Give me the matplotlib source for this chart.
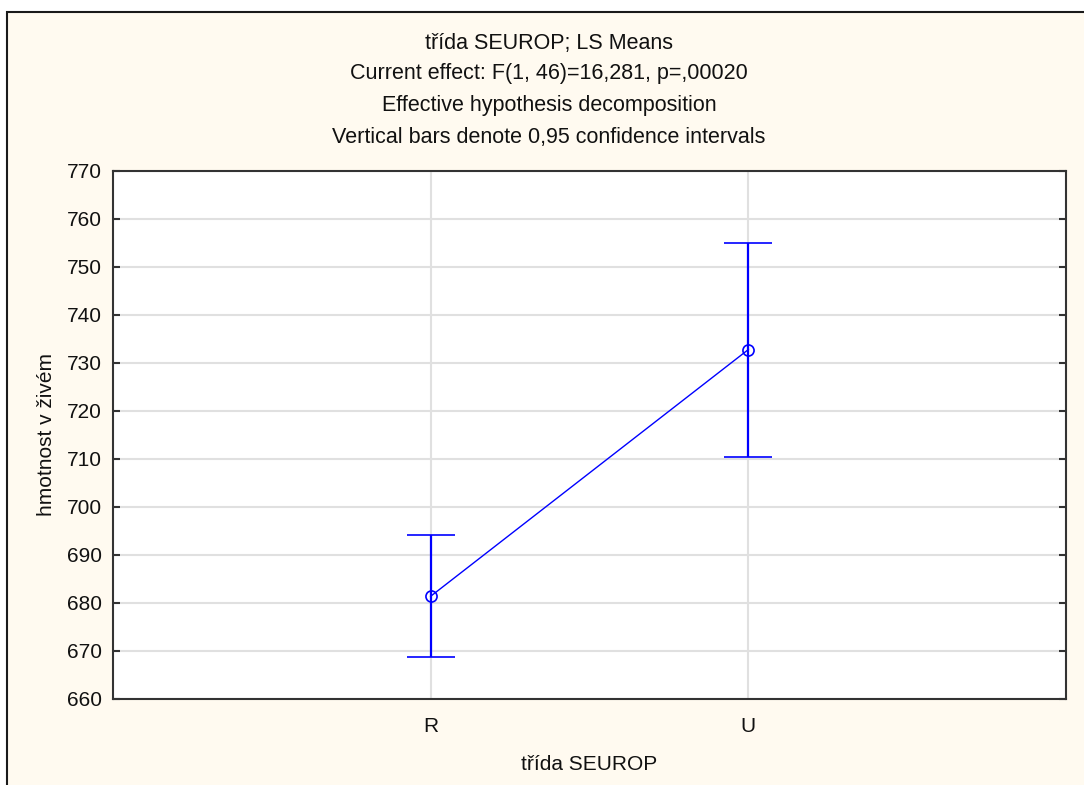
import matplotlib.pyplot as plt
from matplotlib.patches import Rectangle

# LS means of live weight per SEUROP class with 0.95 confidence limits
classes = ['R', 'U']
means = [681.4, 732.8]
ci_low = [668.8, 710.5]
ci_high = [694.2, 755.1]

title_lines = ['třída SEUROP; LS Means',
               'Current effect: F(1, 46)=16,281, p=,00020',
               'Effective hypothesis decomposition',
               'Vertical bars denote 0,95 confidence intervals']
y_ticks = list(range(660, 771, 10))

W, H = 1084, 785
FS = 15
plt.rcParams['font.family'] = ['Liberation Sans', 'DejaVu Sans']

fig = plt.figure(figsize=(W / 100, H / 100), dpi=100, facecolor='white')

# cream panel with dark frame
fig.patches.append(Rectangle((7 / W, -0.1), 1.2, 1 - 12 / H + 0.1,
                             transform=fig.transFigure, facecolor='#fffaf0',
                             edgecolor='#1a1a1a', linewidth=1.5, zorder=-5))

ax = fig.add_axes([113 / W, 1 - 699 / H, (1066 - 113) / W, (699 - 171) / H])
ax.set_zorder(2)
ax.set_facecolor('white')

x = list(range(len(classes)))
yerr = [[m - lo for m, lo in zip(means, ci_low)],
        [hi - m for m, hi in zip(means, ci_high)]]
ax.errorbar(x, means, yerr=yerr, color='#0000ff', ecolor='#0000ff',
            linewidth=1.0, elinewidth=1.6, capsize=17, capthick=1.6,
            marker='o', markersize=8, markerfacecolor='none',
            markeredgecolor='#0000ff', markeredgewidth=1.2, zorder=3)

ax.set_xlim(-1, 2)
ax.set_ylim(660, 770)
ax.set_xticks(x)
ax.set_xticklabels(classes)
ax.set_yticks(y_ticks)
ax.grid(True, color='#e0e0e0', linewidth=1.5)
ax.set_axisbelow(True)
ax.tick_params(axis='y', direction='in', length=5, width=1.5, labelsize=FS,
               right=True, pad=8, colors='#333333', labelcolor='#111111')
ax.tick_params(axis='x', length=0, labelsize=FS, pad=13, labelcolor='#111111')
for s in ax.spines.values():
    s.set_color('#333333')
    s.set_linewidth(1.5)

ax.set_xlabel('třída SEUROP', fontsize=FS, labelpad=14, color='#111111')
ax.set_ylabel('hmotnost v živém', fontsize=FS, labelpad=8, color='#111111')

for yy, line in zip([43, 74, 105, 138], title_lines):
    fig.text(549 / W, 1 - yy / H, line, ha='center', va='center',
             fontsize=15.5, color='#111111')

fig.savefig('out.png', dpi=100, facecolor='white')
